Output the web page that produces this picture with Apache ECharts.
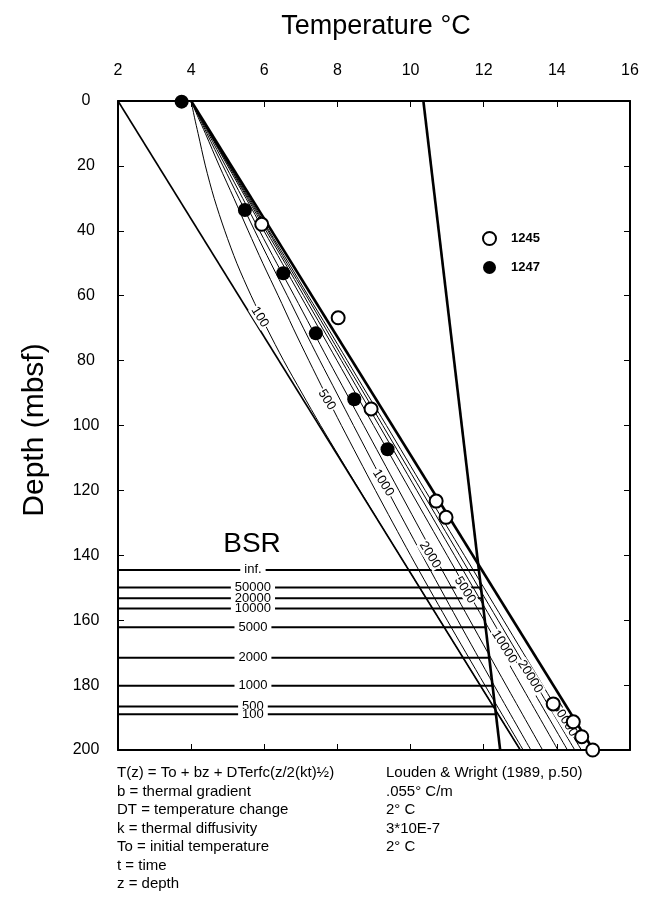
<!DOCTYPE html>
<html>
<head>
<meta charset="utf-8">
<script src="https://cdn.jsdelivr.net/npm/echarts@6/dist/echarts.min.js"></script>
<style>
html,body{margin:0;padding:0;background:#fff;}
#chart{width:656px;height:914px;}
</style>
</head>
<body>
<div id="chart"></div>
<script>
// ---- data ----
const depths = [0,5,10,20,30,40,50,60,70,80,90,100,120,140,160,180,200];
const t100   = [4,4.09,4.19,4.39,4.63,4.92,5.25,5.64,6.07,6.53,7.03,7.54,8.61,9.70,10.80,11.90,13.00];
const t500   = [4,4.19,4.39,4.77,5.17,5.56,5.96,6.38,6.79,7.22,7.66,8.11,9.04,10.00,11.00,12.03,13.08];
const t1000  = [4,4.22,4.43,4.87,5.31,5.74,6.18,6.63,7.07,7.52,7.98,8.44,9.37,10.32,11.29,12.28,13.29];
const t2000  = [4,4.23,4.47,4.94,5.41,5.87,6.34,6.82,7.29,7.76,8.24,8.72,9.68,10.64,11.62,12.61,13.61];
const t5000  = [4,4.25,4.50,5.00,5.50,5.99,6.49,6.99,7.49,7.99,8.49,8.99,9.99,11.00,12.01,13.02,14.03];
const t10000 = [4,4.26,4.51,5.03,5.54,6.05,6.57,7.08,7.59,8.11,8.62,9.14,10.17,11.20,12.23,13.26,14.29];
const t20000 = [4,4.26,4.52,5.05,5.57,6.10,6.62,7.15,7.67,8.19,8.72,9.24,10.29,11.34,12.39,13.44,14.49];
const t50000 = [4,4.27,4.53,5.07,5.60,6.13,6.67,7.20,7.74,8.27,8.80,9.34,10.40,11.47,12.54,13.61,14.67];
const curveTimes = ['100','500','1000','2000','5000','10000','20000','50000'];
const curveTemps = [t100,t500,t1000,t2000,t5000,t10000,t20000,t50000];

const initialLine = [[2,0],[13,200]];
const finalLine = [[4,0],[15,200]];
const phaseBoundary = [[10.35,0],[12.45,200]];

const curveLabelText = ['100','500','1000','2000','5000','10000','20000','50000'];
const curveLabelTemp = [5.88,7.71,9.25,10.53,11.49,12.56,13.27,14.22];
const curveLabelDepth = [66.6,92.1,117.7,139.9,150.7,168.2,177.4,190.8];

const bsrNames = ['inf.','50000','20000','10000','5000','2000','1000','500','100'];
const bsrDepth = [144.5,149.9,153.2,156.4,162.2,171.6,180.2,186.6,189.0];
const bsrEndTemp = [11.87,11.92,11.96,11.99,12.05,12.15,12.24,12.31,12.34];
const bsrLabelTemp = 5.69;

const site1245 = [[5.93,38.0],[8.02,66.8],[8.92,94.9],[10.70,123.3],[10.97,128.3],[13.90,185.8],[14.45,191.3],[14.68,195.9],[14.98,200]];
const site1247 = [[3.74,0.2],[5.47,33.6],[6.52,53.1],[7.41,71.6],[8.46,91.9],[9.37,107.3]];

const xTicks = {min:2, max:16, interval:2};
const yTicks = {min:0, max:200, interval:20};

const formulaLeft = ['T(z) = To + bz + DTerfc(z/2(kt)½)','b = thermal gradient','DT = temperature change','k = thermal diffusivity','To = initial temperature','t = time','z = depth'];
const formulaRight = ['Louden & Wright (1989, p.50)','.055° C/m','2° C','3*10E-7','2° C'];

// ---- chart ----
const FONT = 'Liberation Sans';
const chart = echarts.init(document.getElementById('chart'), null, {renderer:'canvas'});

const series = [];
curveTemps.forEach((arr, i) => {
  series.push({
    name: 't' + curveTimes[i], type:'line', silent:true, symbol:'none', smooth:0.3,
    lineStyle:{color:'#000', width:1, opacity:1},
    data: depths.map((d, j) => [arr[j], d]),
    z: 2
  });
});
series.push({type:'line', symbol:'none', silent:true, data: initialLine, lineStyle:{color:'#000', width:1.6}, z:2});
series.push({type:'line', symbol:'none', silent:true, data: finalLine, lineStyle:{color:'#000', width:2.6}, z:3});
series.push({type:'line', symbol:'none', silent:true, data: phaseBoundary, lineStyle:{color:'#000', width:2.6}, z:3});
bsrDepth.forEach((d, i) => {
  series.push({type:'line', symbol:'none', silent:true, data:[[xTicks.min, d],[bsrEndTemp[i], d]], lineStyle:{color:'#000', width:2}, z:3});
});
// curve labels
series.push({
  type:'scatter', symbolSize:0, silent:true, z:4,
  itemStyle:{opacity:1},
  data: curveLabelText.map((t, i) => [curveLabelTemp[i], curveLabelDepth[i], t]),
  label:{show:true, position:'inside', rotate:-58, formatter:p => p.value[2], opacity:1,
    fontFamily:FONT, fontSize:13, color:'#000', backgroundColor:'#fff', padding:[0,1]}
});
// BSR labels
series.push({
  type:'scatter', symbolSize:0, silent:true, z:4,
  itemStyle:{opacity:1},
  data: bsrNames.map((t, i) => [bsrLabelTemp, bsrDepth[i], t]),
  label:{show:true, position:'inside', formatter:p => p.value[2], opacity:1,
    fontFamily:FONT, fontSize:13, color:'#000', backgroundColor:'#fff', padding:[0,4], lineHeight:11}
});
series.push({
  name:'1245', type:'scatter', data: site1245, symbol:'circle', symbolSize:13, z:6,
  itemStyle:{color:'#fff', borderColor:'#000', borderWidth:2, opacity:1}
});
series.push({
  name:'1247', type:'scatter', data: site1247, symbol:'circle', symbolSize:14, z:6,
  itemStyle:{color:'#000', borderColor:'#000', borderWidth:0, opacity:1}
});

const axisCommon = {
  type:'value', axisLine:{show:true, onZero:false, lineStyle:{color:'#000', width:2}},
  axisTick:{show:true, inside:true, length:6, lineStyle:{color:'#000', width:1}},
  splitLine:{show:false}
};

const graphic = [
  {type:'text', x:376, y:27, style:{text:'Temperature °C', font:'27px ' + FONT, fill:'#000', textAlign:'center', textVerticalAlign:'middle'}},
  {type:'text', x:35, y:430, rotation:Math.PI/2, style:{text:'Depth (mbsf)', font:'30px ' + FONT, fill:'#000', textAlign:'center', textVerticalAlign:'middle'}},
  {type:'text', x:252, y:544, style:{text:'BSR', font:'28px ' + FONT, fill:'#000', textAlign:'center', textVerticalAlign:'middle'}}
];
const lineYs = [773,791.5,810,828.5,847,865.5,884];
formulaLeft.forEach((t, i) => graphic.push({type:'text', x:117, y:lineYs[i], style:{text:t, font:'15px ' + FONT, fill:'#000', textAlign:'left', textVerticalAlign:'middle'}}));
formulaRight.forEach((t, i) => graphic.push({type:'text', x:386, y:lineYs[i], style:{text:t, font:'15px ' + FONT, fill:'#000', textAlign:'left', textVerticalAlign:'middle'}}));

chart.setOption({
  animation:false,
  backgroundColor:'#fff',
  grid:{left:118, top:101, right:26, bottom:164},
  legend:{
    data:['1245','1247'], orient:'vertical', left:477, top:226, itemWidth:13, itemHeight:13, itemGap:15,
    textStyle:{fontFamily:FONT, fontWeight:'bold', fontSize:13, color:'#000', padding:[0,0,0,10]},
    selectedMode:false
  },
  xAxis:[
    Object.assign({}, axisCommon, {position:'top', min:xTicks.min, max:xTicks.max, interval:xTicks.interval,
      axisLabel:{show:true, fontFamily:FONT, fontSize:16, color:'#000', margin:22}}),
    Object.assign({}, axisCommon, {position:'bottom', min:xTicks.min, max:xTicks.max, interval:xTicks.interval,
      axisLabel:{show:false}})
  ],
  yAxis:[
    Object.assign({}, axisCommon, {position:'left', inverse:true, min:yTicks.min, max:yTicks.max, interval:yTicks.interval,
      axisLabel:{show:true, fontFamily:FONT, fontSize:16, color:'#000', margin:32, align:'center'}}),
    Object.assign({}, axisCommon, {position:'right', inverse:true, min:yTicks.min, max:yTicks.max, interval:yTicks.interval,
      axisLabel:{show:false}})
  ],
  series: series,
  graphic: graphic
});
</script>
</body>
</html>
